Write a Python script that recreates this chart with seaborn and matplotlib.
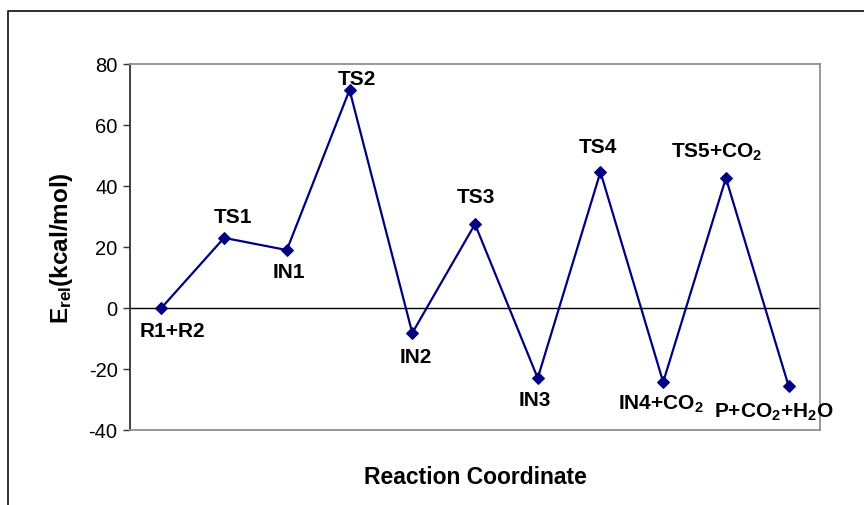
import numpy as np
import pandas as pd
import matplotlib.pyplot as plt
import seaborn as sns

# Datos del perfil de energía
especies = ['R1+R2', 'TS1', 'IN1', 'TS2', 'IN2', 'TS3', 'IN3', 'TS4',
            'IN4+CO$_2$', 'TS5+CO$_2$', 'P+CO$_2$+H$_2$O']
energia = [0.0, 23.0, 19.0, 71.5, -8.2, 27.5, -23.0, 44.6, -24.3, 42.6, -25.6]

df = pd.DataFrame({'paso': np.arange(len(especies)), 'E': energia})

sns.set_style('white')
plt.rcParams['font.family'] = ['Liberation Sans', 'DejaVu Sans']
plt.rcParams['mathtext.fontset'] = 'custom'
plt.rcParams['mathtext.rm'] = 'Liberation Sans'
plt.rcParams['mathtext.bf'] = 'Liberation Sans:bold'
plt.rcParams['mathtext.default'] = 'bf'
plt.rcParams['axes.unicode_minus'] = False
plt.rcParams['text.color'] = 'black'
plt.rcParams['axes.labelcolor'] = 'black'
plt.rcParams['xtick.color'] = 'black'
plt.rcParams['ytick.color'] = 'black'

fig = plt.figure(figsize=(8.64, 5.06), dpi=100)
ax = fig.add_axes([130 / 864, 75 / 506, 690 / 864, 366 / 506])

sns.lineplot(data=df, x='paso', y='E', ax=ax, color='#000080', marker='D',
             markersize=6.5, markeredgecolor='#000080', linewidth=1.6, sort=False)

ax.axhline(0, color='black', linewidth=1.0, zorder=1)

# desplazamiento de las etiquetas (pixeles)
dx = [11, 9, 2, 7, 4, 1, -3, -3, -2, -9, -15]
dy = [-23, 21, -21, 11, -23, 28, -21, 25, -21, 27, -25]
for i, (txt, e) in enumerate(zip(especies, energia)):
    ax.annotate(txt, (i, e), xytext=(dx[i], dy[i]), textcoords='offset pixels',
                ha='center', va='center', fontsize=15, fontweight='bold')

ax.set_xlim(-0.5, len(especies) - 0.5)
ax.set_ylim(-40, 80)
ax.set_yticks(np.arange(-40, 81, 20))
ax.set_xticks([])
ax.tick_params(axis='y', left=True, direction='out', length=5, width=1,
               labelsize=14.5, pad=4, color='#333333')
ax.set_xlabel('Reaction Coordinate', fontsize=16.5, fontweight='bold', labelpad=25)
ax.set_ylabel(r'E$_{\mathregular{rel}}$(kcal/mol)', fontsize=17.5, fontweight='bold',
              labelpad=10)

ax.spines['left'].set_color('#333333')
for s in ['top', 'right', 'bottom']:
    ax.spines[s].set_color('#909090')
for s in ax.spines.values():
    s.set_linewidth(1.3)

# marco exterior
fig.add_artist(plt.Line2D([8 / 864, 8 / 864, 1.0], [0.0, 1 - 11.5 / 506, 1 - 11.5 / 506],
                          transform=fig.transFigure, color='#202020', linewidth=1.3))

fig.savefig('out.png', dpi=100)
